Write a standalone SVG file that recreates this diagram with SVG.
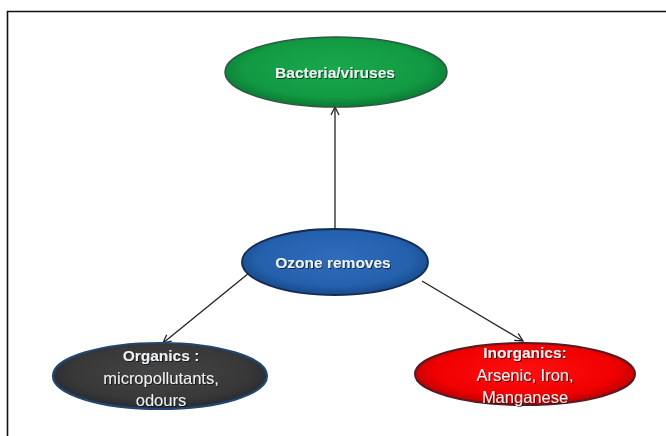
<svg xmlns="http://www.w3.org/2000/svg" width="666" height="436" viewBox="0 0 666 436">
<defs>
<radialGradient id="gGreen" cx="50%" cy="45%" r="55%"><stop offset="0" stop-color="#19a84c"/><stop offset="0.75" stop-color="#129a43"/><stop offset="1" stop-color="#0b7a34"/></radialGradient>
<radialGradient id="gBlue" cx="50%" cy="45%" r="55%"><stop offset="0" stop-color="#2f6cbc"/><stop offset="0.75" stop-color="#2460ac"/><stop offset="1" stop-color="#174a8a"/></radialGradient>
<radialGradient id="gDark" cx="50%" cy="45%" r="55%"><stop offset="0" stop-color="#454545"/><stop offset="0.75" stop-color="#383838"/><stop offset="1" stop-color="#262a30"/></radialGradient>
<radialGradient id="gRed" cx="50%" cy="45%" r="55%"><stop offset="0" stop-color="#ff1010"/><stop offset="0.75" stop-color="#f00000"/><stop offset="1" stop-color="#b80000"/></radialGradient>
<filter id="ts" x="-10%" y="-30%" width="120%" height="160%"><feDropShadow dx="1" dy="1" stdDeviation="0.6" flood-color="#000" flood-opacity="0.6"/></filter>
<marker id="arr" markerWidth="10" markerHeight="10" refX="9" refY="5" orient="auto" markerUnits="userSpaceOnUse"><path d="M1,1 L9,5 L1,9" fill="none" stroke="#222" stroke-width="1.3"/></marker>
</defs>
<style>
.lbl{font-family:"Liberation Sans",Arial,sans-serif;font-size:16.5px;fill:#eef1f3;text-anchor:middle;filter:url(#ts)}
.b{font-weight:bold;font-size:15.5px}
.edge{stroke:#222;stroke-width:1.3;fill:none;marker-end:url(#arr)}
</style>
<rect width="666" height="436" fill="#ffffff"/>
<path d="M7.5,436 V11.5 H666" fill="none" stroke="#111" stroke-width="1.6"/>
<g id="connectors">
<line class="edge" x1="335" y1="228" x2="335" y2="107"/>
<line class="edge" x1="249" y1="273" x2="163" y2="343"/>
<line class="edge" x1="422" y1="281" x2="523" y2="341"/>
</g>
<g id="bacteria">
<ellipse cx="336" cy="72" rx="111" ry="35" fill="url(#gGreen)" stroke="#2c5a44" stroke-width="1.5"/>
<text class="lbl b" x="335" y="78">Bacteria/viruses</text>
</g>
<g id="ozone">
<ellipse cx="335" cy="262" rx="93" ry="33" fill="url(#gBlue)" stroke="#142c55" stroke-width="1.8"/>
<text class="lbl b" x="333" y="268">Ozone removes</text>
</g>
<g id="organics">
<ellipse cx="160" cy="376" rx="107" ry="33" fill="url(#gDark)" stroke="#22476e" stroke-width="2.2"/>
<text class="lbl b" x="161" y="361">Organics :</text>
<text class="lbl" x="161" y="384">micropollutants,</text>
<text class="lbl" x="161" y="406">odours</text>
</g>
<g id="inorganics">
<ellipse cx="525" cy="374" rx="110" ry="31" fill="url(#gRed)" stroke="#5a1a24" stroke-width="2"/>
<text class="lbl b" x="525" y="358">Inorganics:</text>
<text class="lbl" x="525" y="381">Arsenic, Iron,</text>
<text class="lbl" x="525" y="403">Manganese</text>
</g>
</svg>
